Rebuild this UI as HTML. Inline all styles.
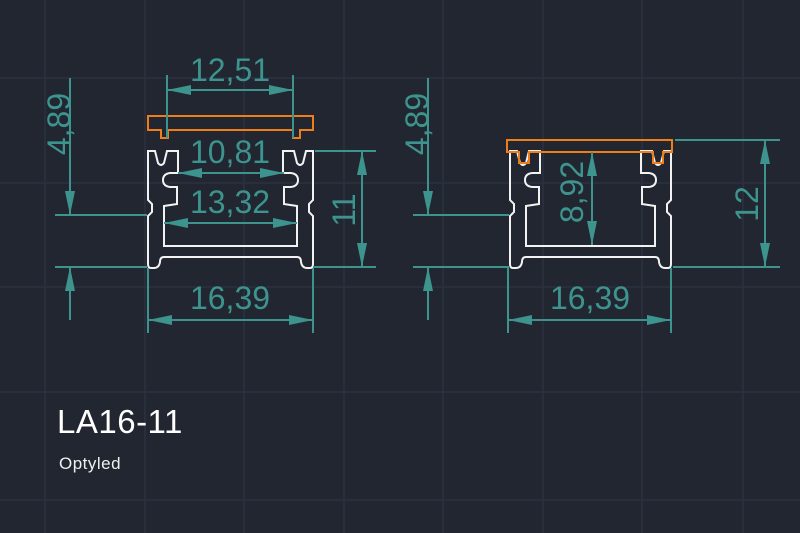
<!DOCTYPE html>
<html><head><meta charset="utf-8"><style>
html,body{margin:0;padding:0;background:#212630;}
svg{display:block}
text{font-family:"Liberation Sans",sans-serif;}
</style></head><body>
<svg width="800" height="533" viewBox="0 0 800 533" xmlns="http://www.w3.org/2000/svg">
<defs>
<marker id="a" markerUnits="userSpaceOnUse" markerWidth="30" markerHeight="14" refX="26" refY="6" orient="auto-start-reverse" viewBox="0 0 30 14">
<path d="M26,6 L2,1 L2,11 z" fill="#3d948f"/>
</marker>
<path id="half" d="M231,257 L164,257 Q160,257 160,262 Q159,268 154,268 L151,268 Q148,268 148,264 L148,216 L152,212 L152,204 L148,200 L148,151 L155,151 L158,163 Q161,167 164,163 L167,151 L178,151 L178,173 L170,173 Q163,174 163,180 Q163,186 170,187 L177,187 L177,204 L164,206 L164,246 L231,246" fill="none" stroke="#f2f2f2" stroke-width="2"/>
</defs>
<rect width="800" height="533" fill="#212630"/>
<g stroke="#2c3140" stroke-width="1.5">
<line x1="45" y1="0" x2="45" y2="533"/><line x1="145" y1="0" x2="145" y2="533"/><line x1="244" y1="0" x2="244" y2="533"/>
<line x1="344" y1="0" x2="344" y2="533"/><line x1="443" y1="0" x2="443" y2="533"/><line x1="543" y1="0" x2="543" y2="533"/>
<line x1="642" y1="0" x2="642" y2="533"/><line x1="743" y1="0" x2="743" y2="533"/>
<line x1="0" y1="78" x2="800" y2="78"/><line x1="0" y1="183" x2="800" y2="183"/><line x1="0" y1="287" x2="800" y2="287"/>
<line x1="0" y1="392" x2="800" y2="392"/><line x1="0" y1="500" x2="800" y2="500"/>
</g>
<use href="#half"/>
<use href="#half" transform="translate(461,0) scale(-1,1)"/>
<path d="M148,116 L313,116 L313,130 L300,130 L300,138 L293,138 L293,130 L168,130 L168,138 L161,138 L161,130 L148,130 Z" fill="none" stroke="#ef7d1a" stroke-width="2"/>
<use href="#half" transform="translate(362,0)"/>
<use href="#half" transform="translate(819,0) scale(-1,1)"/>
<path d="M507,140 L672,140 L672,152 L663,152 L663,163 L653,163 L653,152 L529,152 L529,163 L519,163 L519,152 L507,152 Z" fill="none" stroke="#ef7d1a" stroke-width="2"/>
<g stroke="#3d948f" stroke-width="2" fill="none">
<line x1="167" y1="75" x2="167" y2="138"/><line x1="293" y1="75" x2="293" y2="138"/>
<line x1="167" y1="90" x2="293" y2="90" marker-start="url(#a)" marker-end="url(#a)"/>
<line x1="178" y1="173" x2="284" y2="173" marker-start="url(#a)" marker-end="url(#a)"/>
<line x1="164" y1="223" x2="297" y2="223" marker-start="url(#a)" marker-end="url(#a)"/>
<line x1="315" y1="151" x2="376" y2="151"/><line x1="313" y1="267" x2="376" y2="267"/>
<line x1="362" y1="151" x2="362" y2="267" marker-start="url(#a)" marker-end="url(#a)"/>
<line x1="148" y1="268" x2="148" y2="333"/><line x1="313" y1="268" x2="313" y2="333"/>
<line x1="148" y1="320" x2="313" y2="320" marker-start="url(#a)" marker-end="url(#a)"/>
<line x1="55" y1="215" x2="147" y2="215"/><line x1="55" y1="267" x2="147" y2="267"/>
<line x1="70" y1="78" x2="70" y2="215" marker-end="url(#a)"/>
<line x1="70" y1="320" x2="70" y2="267" marker-end="url(#a)"/>
<line x1="413" y1="215" x2="509" y2="215"/><line x1="413" y1="267" x2="509" y2="267"/>
<line x1="428" y1="78" x2="428" y2="215" marker-end="url(#a)"/>
<line x1="428" y1="320" x2="428" y2="267" marker-end="url(#a)"/>
<line x1="592" y1="152" x2="592" y2="245" marker-start="url(#a)" marker-end="url(#a)"/>
<line x1="675" y1="140" x2="780" y2="140"/><line x1="673" y1="267" x2="780" y2="267"/>
<line x1="765" y1="140" x2="765" y2="267" marker-start="url(#a)" marker-end="url(#a)"/>
<line x1="508" y1="268" x2="508" y2="333"/><line x1="671" y1="268" x2="671" y2="333"/>
<line x1="508" y1="320" x2="671" y2="320" marker-start="url(#a)" marker-end="url(#a)"/>
</g>
<g fill="#3d948f" font-size="32" text-anchor="middle">
<text x="230" y="81">12,51</text>
<text x="230" y="163">10,81</text>
<text x="230" y="213">13,32</text>
<text x="230" y="309">16,39</text>
<text x="590" y="309">16,39</text>
<text transform="translate(355,210) rotate(-90)">11</text>
<text transform="translate(70,124) rotate(-90)">4,89</text>
<text transform="translate(428,124) rotate(-90)">4,89</text>
<text transform="translate(583,192) rotate(-90)">8,92</text>
<text transform="translate(758,204) rotate(-90)">12</text>
</g>
<text x="57" y="433" font-size="33" fill="#ffffff" letter-spacing="0.5">LA16-11</text>
<text x="59" y="469" font-size="17" fill="#f0f0f0" letter-spacing="0.5">Optyled</text>
</svg>
</body></html>
